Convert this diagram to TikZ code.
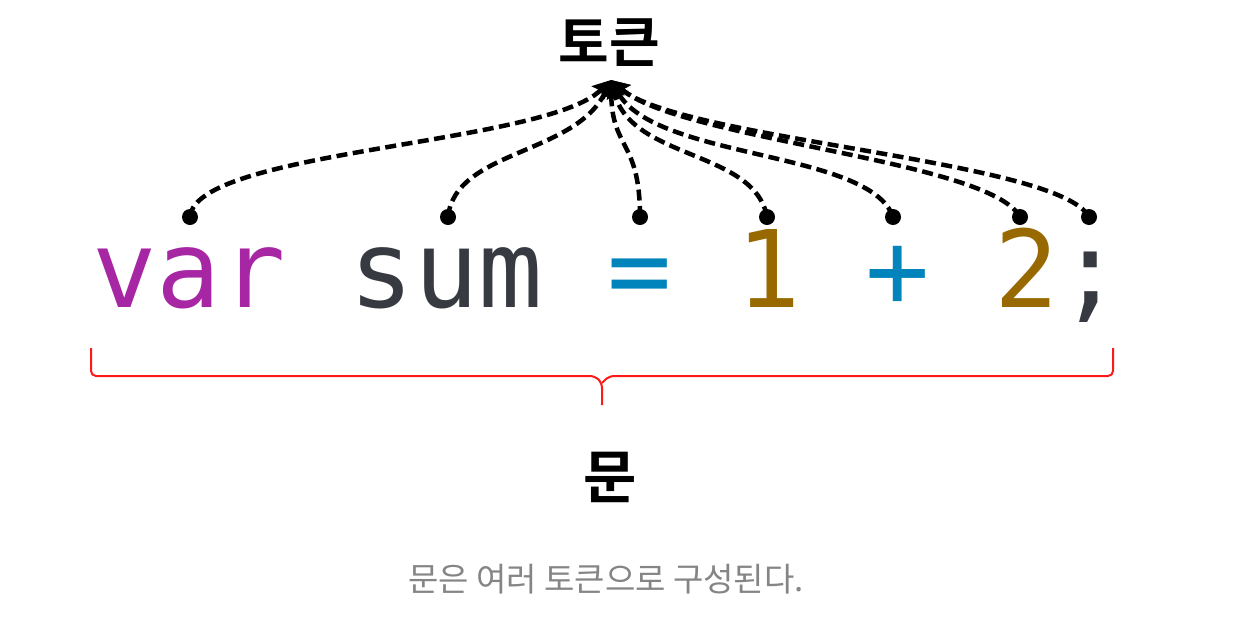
\documentclass[tikz,border=0pt]{standalone}
\usepackage{fontspec}
\usetikzlibrary{arrows.meta}
\newfontfamily\kr{Noto Sans CJK KR}
\newfontfamily\krb{Noto Sans CJK KR Bold}
\newfontfamily\codefont{DejaVu Sans Mono}
\definecolor{kw}{HTML}{A626A4}
\definecolor{idn}{HTML}{383A42}
\definecolor{op}{HTML}{0184BC}
\definecolor{num}{HTML}{986801}
\definecolor{capgray}{HTML}{858585}
\definecolor{bracered}{HTML}{FF1A1A}
\tikzset{
  tokdot/.style={circle, fill=black, inner sep=0pt, minimum size=16pt},
  tokline/.style={line width=4.5pt, dash pattern=on 11pt off 5.5pt, -{Stealth[length=18pt,width=18pt,inset=3pt]}},
  bracestyle/.style={draw=bracered, line width=2pt, rounded corners=5pt},
}
\begin{document}
\begin{tikzpicture}[x=1pt,y=-1pt]
\useasboundingbox (0,0) rectangle (1234,622);
\fill[white] (0,0) rectangle (1234,622);
% title
\node[anchor=base, inner sep=0pt, font=\krb\fontsize{55}{55}\selectfont] (title) at (609,62) {토큰};
\coordinate (apex) at (611,80);
% code
\node[anchor=base west, inner sep=0pt, font=\codefont\fontsize{107}{107}\selectfont] (code) at (92,307)
  {\textcolor{kw}{var} \textcolor{idn}{sum} \textcolor{op}{=} \textcolor{num}{1} \textcolor{op}{+} \textcolor{num}{2}\textcolor{idn}{;}};
% dots
\node[tokdot] (d1) at (190,217) {};
\node[tokdot] (d2) at (448,217) {};
\node[tokdot] (d3) at (640,217) {};
\node[tokdot] (d4) at (767,217) {};
\node[tokdot] (d5) at (893,217) {};
\node[tokdot] (d6) at (1020,217) {};
\node[tokdot] (d7) at (1089,217) {};
% connectors
\draw[tokline] (d1.center) .. controls (195,150) and (545,145) .. (apex);
\draw[tokline] (d2.center) .. controls (455,150) and (575,155) .. (apex);
\draw[tokline] (d3.center) .. controls (640,140) and (612,150) .. (apex);
\draw[tokline] (d4.center) .. controls (755,150) and (632,160) .. (apex);
\draw[tokline] (d5.center) .. controls (870,150) and (655,160) .. (apex);
\draw[tokline] (d6.center) .. controls (990,160) and (680,140) .. (apex);
\draw[tokline] (d7.center) .. controls (1060,160) and (680,140) .. (apex);
% brace
\coordinate (bl) at (91,348);
\coordinate (br) at (1113,348);
\coordinate (bm) at (602,405);
\draw[bracestyle] (bl) -- (91,376) -- (595,376) -- (602,383) -- (bm);
\draw[bracestyle] (br) -- (1113,376) -- (609,376) -- (602,383);
% labels
\node[anchor=base, inner sep=0pt, font=\krb\fontsize{58}{58}\selectfont] (stmt) at (610,498) {문};
\node[anchor=base, inner sep=0pt, text=capgray, font=\kr\fontsize{33}{33}\selectfont] (cap) at (606,591) {문은 여러 토큰으로 구성된다.};
\end{tikzpicture}
\end{document}
